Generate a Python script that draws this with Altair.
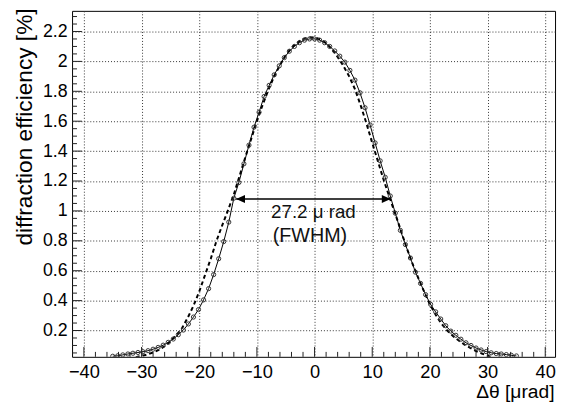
import altair as alt
import pandas as pd

# ---------------- data ----------------
theta_data = [-35.0, -34.125, -33.25, -32.375, -31.5, -30.625, -29.75, -28.875, -28.0, -27.125,
              -26.25, -25.375, -24.5, -23.625, -22.75, -21.875, -21.0, -20.125, -19.25, -18.375,
              -17.5, -16.625, -15.75, -14.875, -14.0, -13.125, -12.25, -11.375, -10.5, -9.625,
              -8.75, -7.875, -7.0, -6.125, -5.25, -4.375, -3.5, -2.625, -1.75, -0.875,
              0.0, 0.875, 1.75, 2.625, 3.5, 4.375, 5.25, 6.125, 7.0, 7.875,
              8.75, 9.625, 10.5, 11.375, 12.25, 13.125, 14.0, 14.875, 15.75, 16.625,
              17.5, 18.375, 19.25, 20.125, 21.0, 21.875, 22.75, 23.625, 24.5, 25.375,
              26.25, 27.125, 28.0, 28.875, 29.75, 30.625, 31.5, 32.375, 33.25, 34.125, 35.0]
eff_data = [0.028, 0.031, 0.037, 0.043, 0.048, 0.053, 0.058, 0.065, 0.075, 0.087,
            0.102, 0.121, 0.143, 0.172, 0.203, 0.244, 0.290, 0.340, 0.405, 0.480,
            0.574, 0.680, 0.795, 0.925, 1.085, 1.190, 1.315, 1.440, 1.560, 1.660,
            1.765, 1.840, 1.910, 1.970, 2.025, 2.068, 2.100, 2.125, 2.142, 2.150,
            2.150, 2.142, 2.125, 2.100, 2.070, 2.035, 1.995, 1.940, 1.875, 1.790,
            1.690, 1.575, 1.455, 1.335, 1.225, 1.100, 0.985, 0.870, 0.775, 0.685,
            0.590, 0.515, 0.440, 0.375, 0.325, 0.277, 0.232, 0.196, 0.168, 0.142,
            0.118, 0.100, 0.083, 0.070, 0.059, 0.051, 0.046, 0.043, 0.039, 0.034, 0.030]

theta_fit = [-31, -30, -29, -28, -27, -26, -25, -24, -23, -22, -21, -20, -19, -18, -17, -16,
             -15, -14, -13, -12, -11, -10, -9, -8, -7, -6, -5, -4, -3, -2, -1, 0,
             1, 2, 3, 4, 5, 6, 7, 8, 9, 10, 11, 12, 13, 14, 15, 16,
             17, 18, 19, 20, 21, 22, 23, 24, 25, 26, 27, 28, 29, 30, 31]
eff_fit = [0.022, 0.030, 0.040, 0.053, 0.070, 0.095, 0.128, 0.168, 0.215, 0.285, 0.365, 0.460,
           0.570, 0.680, 0.800, 0.905, 1.005, 1.110, 1.235, 1.360, 1.480, 1.600, 1.710, 1.810,
           1.900, 1.975, 2.040, 2.090, 2.125, 2.150, 2.162, 2.160,
           2.148, 2.122, 2.082, 2.030, 1.970, 1.900, 1.815, 1.705, 1.585, 1.455, 1.330, 1.205,
           1.090, 0.980, 0.865, 0.750, 0.645, 0.550, 0.460, 0.375, 0.305, 0.245, 0.200, 0.163,
           0.133, 0.106, 0.083, 0.063, 0.046, 0.031, 0.020]

fwhm_left, fwhm_right, half_max = -13.6, 13.2, 1.08
label_lines = ["27.2  \u03bc rad", "(FWHM)"]
label_x = [-0.2, -0.8]
label_y = [0.989, 0.832]
label_size = [19, 20]

x_major = [-40, -30, -20, -10, 0, 10, 20, 30, 40]
x_minor = [v for v in range(-40, 41, 2) if v % 10 != 0]
y_major = [0.2, 0.4, 0.6, 0.8, 1.0, 1.2, 1.4, 1.6, 1.8, 2.0, 2.2]
y_minor = [round(0.05 * k, 2) for k in range(1, 47) if k % 4 != 0]

X_DOM = [-42.05, 41.7]
Y_DOM = [0.024, 2.338]
W, H = 490, 351
FONT = "Liberation Sans"

xs = alt.Scale(domain=X_DOM, nice=False, zero=False)
ys = alt.Scale(domain=Y_DOM, nice=False, zero=False)

df_data = pd.DataFrame({"x": theta_data, "y": eff_data})
df_fit = pd.DataFrame({"x": theta_fit, "y": eff_fit})
df_arrow = pd.DataFrame({"x": [fwhm_left], "x2": [fwhm_right], "y": [half_max]})
df_head_l = pd.DataFrame({"x": [fwhm_left], "y": [half_max]})
df_head_r = pd.DataFrame({"x": [fwhm_right], "y": [half_max]})
df_text = pd.DataFrame({"x": label_x, "y": label_y, "t": label_lines, "s": label_size})
df_xmaj = pd.DataFrame({"x": x_major})
df_xmin = pd.DataFrame({"x": x_minor})
df_ymaj = pd.DataFrame({"y": y_major})
df_ymin = pd.DataFrame({"y": y_minor})

x_axis = alt.Axis(values=x_major, ticks=False, domain=False, grid=True,
                  gridDash=[1, 2], gridColor="#333", gridWidth=1,
                  labelFont=FONT, labelFontSize=18.5, labelColor="black", labelPadding=6,
                  labelFlush=False, labelOverlap=False,
                  title="\u0394\u03b8 [\u03bcrad]", titleFont=FONT, titleFontSize=19.5,
                  titleFontWeight="normal", titleColor="black",
                  titleAnchor="end", titleAlign="right", titleX=489, titleY=41,
                  titleBaseline="alphabetic")
y_axis = alt.Axis(values=y_major, ticks=False, domain=False, grid=True,
                  gridDash=[1, 2], gridColor="#333", gridWidth=1, format="~g",
                  labelFont=FONT, labelFontSize=18, labelColor="black", labelPadding=5,
                  labelFlush=False, labelOverlap=False,
                  title="diffraction efficiency [%]", titleFont=FONT, titleFontSize=23,
                  titleFontWeight="normal", titleColor="black", titleAngle=270,
                  titleAnchor="end", titleAlign="right", titleX=-41, titleY=-3,
                  titleBaseline="alphabetic")

X = lambda f="x": alt.X(f + ":Q", scale=xs, axis=x_axis)
Y = lambda f="y": alt.Y(f + ":Q", scale=ys, axis=y_axis)

base_line = alt.Chart(df_data).mark_line(color="black", strokeWidth=1, clip=True).encode(
    x=X(), y=Y())
pts = alt.Chart(df_data).mark_point(shape="circle", filled=False, size=18, strokeWidth=1,
                                    color="#333", opacity=1, clip=True).encode(x=X(), y=Y())
fit = alt.Chart(df_fit).mark_line(color="black", strokeWidth=2, strokeDash=[4, 3],
                                  clip=True).encode(x=X(), y=Y())
arrow = alt.Chart(df_arrow).mark_rule(color="black", strokeWidth=1.5).encode(
    x=X(), x2="x2:Q", y=Y())
head_l = alt.Chart(df_head_l).mark_point(shape="M0,0L2.25,-1L2.25,1Z", filled=True, size=64,
                                         color="black", opacity=1).encode(x=X(), y=Y())
head_r = alt.Chart(df_head_r).mark_point(shape="M0,0L-2.25,-1L-2.25,1Z", filled=True, size=64,
                                         color="black", opacity=1).encode(x=X(), y=Y())
text = alt.Chart(df_text).mark_text(font=FONT, color="#111",
                                    align="center", baseline="middle").encode(
    x=X(), y=Y(), text="t:N", size=alt.Size("s:Q", scale=None, legend=None))

tick_col = "#222"
xt_major = alt.Chart(df_xmaj).mark_rule(color=tick_col, strokeWidth=1).encode(
    x=X(), y=alt.value(H), y2=alt.value(H - 10))
xt_minor = alt.Chart(df_xmin).mark_rule(color=tick_col, strokeWidth=1).encode(
    x=X(), y=alt.value(H), y2=alt.value(H - 5))
yt_major = alt.Chart(df_ymaj).mark_rule(color=tick_col, strokeWidth=1).encode(
    y=Y(), x=alt.value(0), x2=alt.value(10))
yt_minor = alt.Chart(df_ymin).mark_rule(color=tick_col, strokeWidth=1).encode(
    y=Y(), x=alt.value(0), x2=alt.value(5))

chart = alt.layer(base_line, fit, pts, arrow, head_l, head_r, text,
                  xt_major, xt_minor, yt_major, yt_minor).properties(
    width=W, height=H,
    background="white",
    autosize=alt.AutoSizeParams(type="none"),
    padding={"left": 65, "top": 0, "right": 3, "bottom": 48},
).configure_view(stroke="black", strokeWidth=1)

chart.save("out.html", embed_options={"renderer": "svg", "actions": False})
